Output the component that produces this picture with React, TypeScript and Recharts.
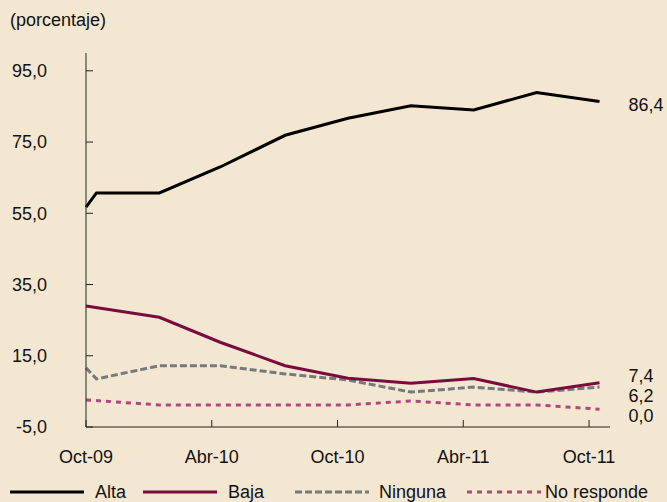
import { LineChart, Line, XAxis, YAxis } from 'recharts';

// months since Oct-09
const months = [0, 0.5, 3.5, 6.4, 9.5, 12.5, 15.5, 18.5, 21.5, 24.5];
const alta = [56.7, 60.7, 60.7, 68.0, 76.9, 81.7, 85.2, 84.0, 88.9, 86.4];
const baja = [29.0, null, 25.8, 18.8, 12.2, 8.7, 7.3, 8.6, 4.8, 7.4];
const ninguna = [11.6, 8.5, 12.2, 12.2, 9.9, 8.2, 4.8, 6.2, 4.8, 6.2];
const noResponde = [2.6, null, 1.2, 1.2, 1.2, 1.2, 2.3, 1.2, 1.2, 0.0];

const xTicks = [0, 6, 12, 18, 24];
const xTickLabels = ['Oct-09', 'Abr-10', 'Oct-10', 'Abr-11', 'Oct-11'];
const yTicks = [-5, 15, 35, 55, 75, 95];

const data = months.map((m, i) => ({
  m,
  alta: alta[i],
  baja: baja[i],
  ninguna: ninguna[i],
  noResponde: noResponde[i],
}));

const FONT = '"Liberation Sans", Arial, sans-serif';
const BG = '#f3e7d2';

const fmt = (v: number) => v.toFixed(1).replace('.', ',');

// value printed right of the last point, nudged so the small ones don't collide
const endLabel = (count: number, dy: number) => (props: any) => {
  const { x, y, index, value } = props;
  if (index !== count - 1) return null;
  return (
    <text x={x + 29} y={y + dy} fontSize={18} fill="#111" dominantBaseline="central" fontFamily={FONT}>
      {fmt(value)}
    </text>
  );
};

const legendItems = [
  { name: 'Alta', color: '#000', dash: undefined, x1: 10, tx: 95 },
  { name: 'Baja', color: '#7a0b3f', dash: undefined, x1: 143, tx: 228 },
  { name: 'Ninguna', color: '#77797c', dash: '7 3', x1: 295, tx: 379 },
  { name: 'No responde', color: '#b0477f', dash: '5 5', x1: 467, tx: 545 },
];

export default function App() {
  return (
    <div style={{ position: 'absolute', left: 0, top: 0, width: 667, height: 502, background: BG, fontFamily: FONT }}>
      <div style={{ position: 'absolute', left: 10, top: 10, fontSize: 18, color: '#111' }}>(porcentaje)</div>
      <LineChart width={667} height={502} data={data} margin={{ top: 53, right: 57, left: 0, bottom: 45 }}>
        <XAxis
          dataKey="m"
          type="number"
          domain={[0, 25]}
          ticks={xTicks}
          tickFormatter={(v: number) => xTickLabels[xTicks.indexOf(v)]}
          stroke="#222"
          tickSize={-7}
          tickMargin={30}
          tick={{ fill: '#111', fontSize: 18, fontFamily: FONT }}
          height={30}
        />
        <YAxis
          type="number"
          domain={[-5, 100]}
          ticks={yTicks}
          tickFormatter={fmt}
          stroke="#222"
          width={86}
          tickSize={-7}
          tickMargin={46}
          tick={{ fill: '#111', fontSize: 18, fontFamily: FONT }}
        />
        <Line dataKey="noResponde" stroke="#b0477f" strokeWidth={3} strokeDasharray="5 5" dot={false} connectNulls isAnimationActive={false} label={endLabel(months.length, 7)} />
        <Line dataKey="ninguna" stroke="#77797c" strokeWidth={3} strokeDasharray="7 3" dot={false} isAnimationActive={false} label={endLabel(months.length, 9)} />
        <Line dataKey="baja" stroke="#7a0b3f" strokeWidth={3} dot={false} connectNulls isAnimationActive={false} label={endLabel(months.length, -7)} />
        <Line dataKey="alta" stroke="#000" strokeWidth={3} dot={false} isAnimationActive={false} label={endLabel(months.length, 4)} />
      </LineChart>
      <svg width={667} height={24} style={{ position: 'absolute', left: 0, top: 480 }}>
        {legendItems.map((it) => (
          <g key={it.name}>
            <line x1={it.x1} x2={it.x1 + 74} y1={12} y2={12} stroke={it.color} strokeWidth={3} strokeDasharray={it.dash} />
            <text x={it.tx} y={12} dominantBaseline="central" fontSize={18} fontFamily={FONT} fill="#111">
              {it.name}
            </text>
          </g>
        ))}
      </svg>
    </div>
  );
}
